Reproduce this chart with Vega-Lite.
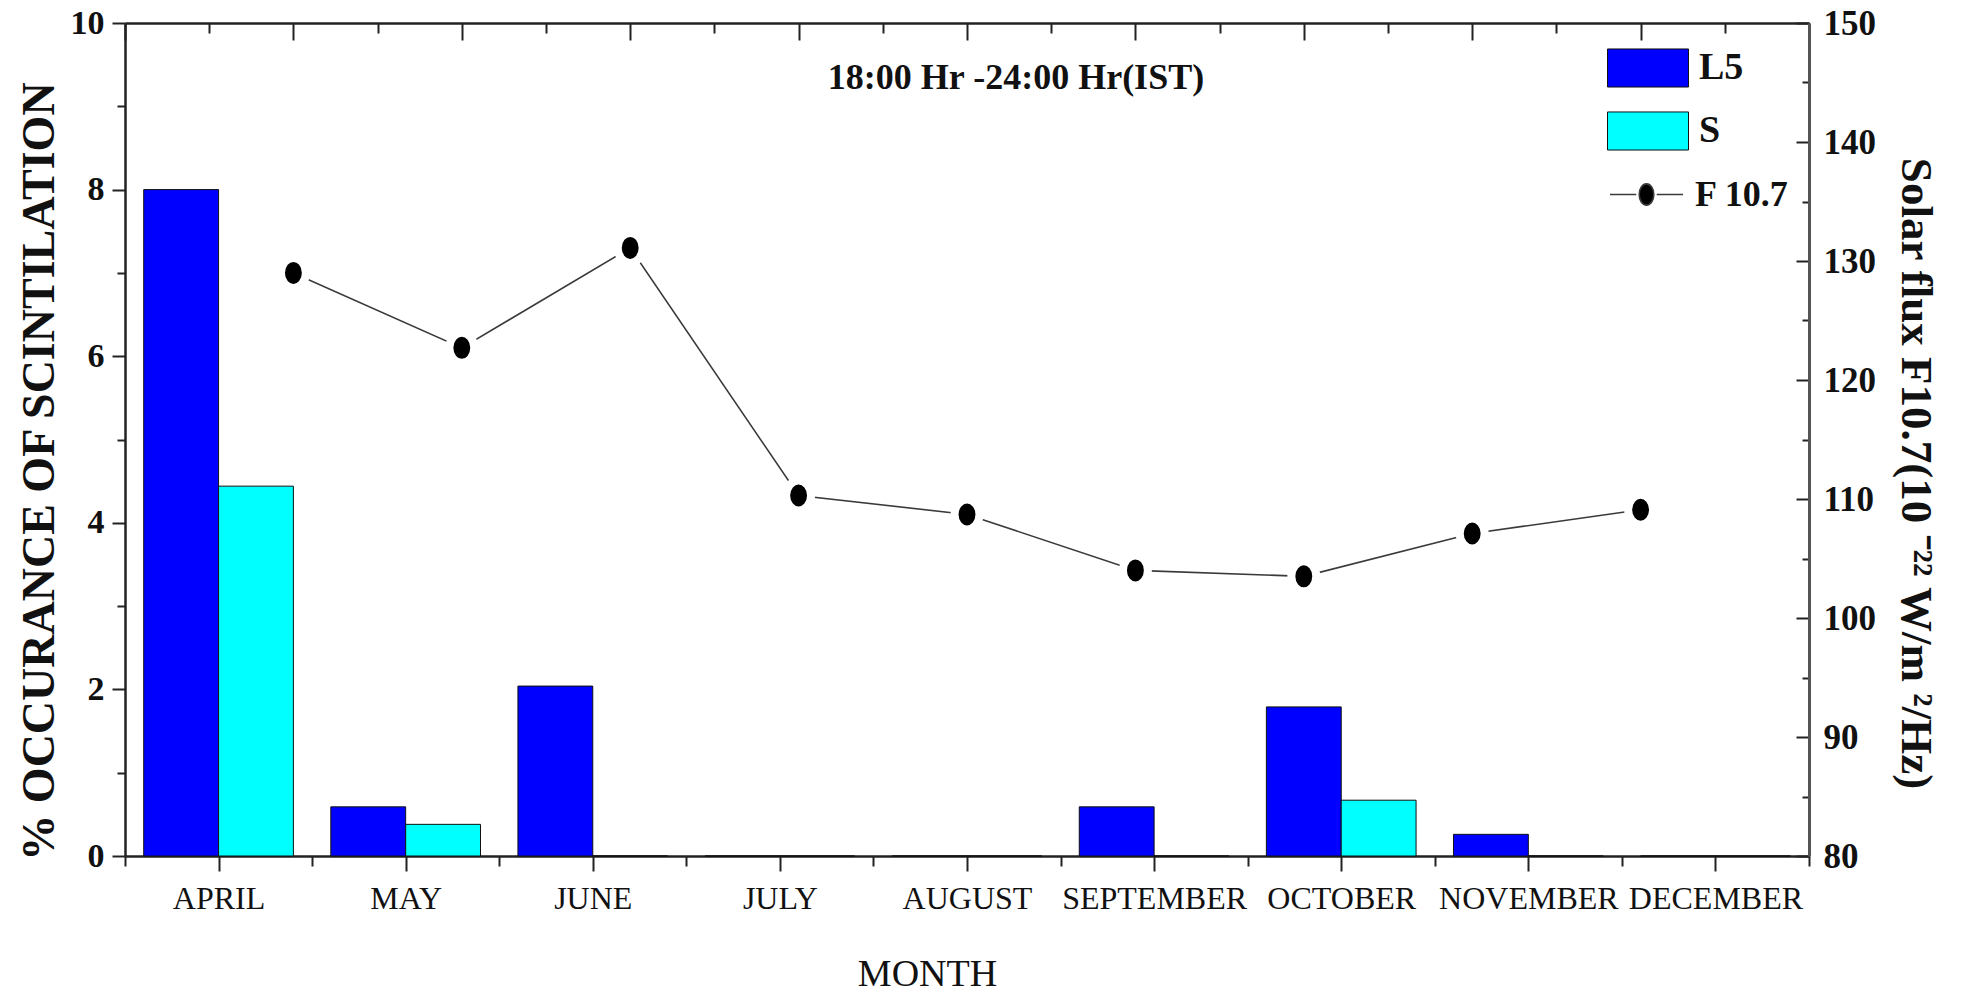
{
  "$schema": "https://vega.github.io/schema/vega-lite/v6.json",
  "width": 1684,
  "height": 833,
  "autosize": {"type": "none"},
  "padding": {"left": 125, "top": 23, "right": 155, "bottom": 138},
  "background": "white",
  "title": {
    "text": "18:00 Hr -24:00 Hr(IST)",
    "orient": "top",
    "anchor": "middle",
    "frame": "group",
    "baseline": "alphabetic",
    "offset": -68,
    "dx": 49,
    "dy": 51,
    "font": "Liberation Serif",
    "fontSize": 36,
    "fontWeight": "bold",
    "color": "#111"
  },
  "datasets": {
    "occurrence": [
      {"month": "APRIL", "series": "L5", "pct": 8.0},
      {"month": "APRIL", "series": "S", "pct": 4.44},
      {"month": "MAY", "series": "L5", "pct": 0.59},
      {"month": "MAY", "series": "S", "pct": 0.38},
      {"month": "JUNE", "series": "L5", "pct": 2.04},
      {"month": "JUNE", "series": "S", "pct": 0},
      {"month": "JULY", "series": "L5", "pct": 0},
      {"month": "JULY", "series": "S", "pct": 0},
      {"month": "AUGUST", "series": "L5", "pct": 0},
      {"month": "AUGUST", "series": "S", "pct": 0},
      {"month": "SEPTEMBER", "series": "L5", "pct": 0.59},
      {"month": "SEPTEMBER", "series": "S", "pct": 0},
      {"month": "OCTOBER", "series": "L5", "pct": 1.79},
      {"month": "OCTOBER", "series": "S", "pct": 0.67},
      {"month": "NOVEMBER", "series": "L5", "pct": 0.26},
      {"month": "NOVEMBER", "series": "S", "pct": 0},
      {"month": "DECEMBER", "series": "L5", "pct": 0},
      {"month": "DECEMBER", "series": "S", "pct": 0}
    ],
    "flux": [
      {"i": 1, "month": "APRIL", "series": "F 10.7", "f107": 129.0},
      {"i": 2, "month": "MAY", "series": "F 10.7", "f107": 122.7},
      {"i": 3, "month": "JUNE", "series": "F 10.7", "f107": 131.1},
      {"i": 4, "month": "JULY", "series": "F 10.7", "f107": 110.3},
      {"i": 5, "month": "AUGUST", "series": "F 10.7", "f107": 108.7},
      {"i": 6, "month": "SEPTEMBER", "series": "F 10.7", "f107": 104.0},
      {"i": 7, "month": "OCTOBER", "series": "F 10.7", "f107": 103.5},
      {"i": 8, "month": "NOVEMBER", "series": "F 10.7", "f107": 107.1},
      {"i": 9, "month": "DECEMBER", "series": "F 10.7", "f107": 109.1}
    ]
  },
  "layer": [
    {
      "data": {"name": "occurrence"},
      "mark": {"type": "bar", "stroke": "#111", "strokeWidth": 1},
      "encoding": {
        "x": {
          "field": "month",
          "type": "nominal",
          "sort": null,
          "scale": {"paddingInner": 0.2, "paddingOuter": 0.1},
          "axis": null
        },
        "xOffset": {
          "field": "series",
          "type": "nominal",
          "sort": ["L5", "S"],
          "scale": {"paddingInner": 0, "paddingOuter": 0}
        },
        "y": {
          "field": "pct",
          "type": "quantitative",
          "scale": {"domain": [0, 10], "nice": false, "zero": true},
          "axis": {
            "orient": "left",
            "title": "% OCCURANCE OF SCINTILATION",
            "values": [0, 1, 2, 3, 4, 5, 6, 7, 8, 9, 10],
            "labelExpr": "datum.value % 2 === 0 ? datum.label : ''",
            "tickSize": {"condition": {"test": "datum.value % 2 === 0", "value": 13}, "value": 8},
            "labelPadding": 8,
            "labelFontSize": 34,
            "labelFontWeight": "bold",
            "labelOverlap": false,
            "titleFontSize": 46,
            "titleFontWeight": "bold",
            "titleAngle": -90,
            "titleBaseline": "alphabetic",
            "titleAlign": "center",
            "titleX": -72,
            "titleY": 448,
            "domainWidth": 2.5,
            "tickWidth": 2
          }
        },
        "fill": {
          "field": "series",
          "type": "nominal",
          "scale": {"domain": ["L5", "S"], "range": ["#0000FF", "#00FFFF"]},
          "legend": {
            "title": null,
            "orient": "none",
            "legendX": 1482,
            "legendY": 4,
            "padding": 0,
            "symbolType": "M-1,-0.47H1V0.47H-1Z",
            "symbolSize": 6561,
            "symbolStrokeColor": "#111",
            "symbolStrokeWidth": 1,
            "symbolOpacity": 1,
            "rowPadding": 0,
            "labelOffset": 10,
            "labelFont": "Liberation Serif",
            "labelFontSize": 38,
            "labelFontWeight": "bold",
            "labelColor": "#111"
          }
        }
      }
    },
    {
      "data": {"name": "flux"},
      "encoding": {
        "x": {
          "field": "i",
          "type": "quantitative",
          "scale": {"domain": [0, 10], "nice": false, "zero": false},
          "axis": {
            "orient": "top",
            "title": null,
            "values": [0, 0.5, 1, 1.5, 2, 2.5, 3, 3.5, 4, 4.5, 5, 5.5, 6, 6.5, 7, 7.5, 8, 8.5, 9, 9.5, 10],
            "labels": false,
            "tickSize": {"condition": {"test": "datum.value % 1 === 0", "value": -17}, "value": -10},
            "domainWidth": 2.5,
            "tickWidth": 2
          }
        },
        "y": {
          "field": "f107",
          "type": "quantitative",
          "scale": {"domain": [80, 150], "nice": false, "zero": false},
          "axis": {
            "orient": "right",
            "title": "Solar flux F10.7(10 ⁻²² W/m ²/Hz)",
            "values": [80, 85, 90, 95, 100, 105, 110, 115, 120, 125, 130, 135, 140, 145, 150],
            "labelExpr": "datum.value % 10 === 0 ? datum.label : ''",
            "tickSize": {"condition": {"test": "datum.value % 10 === 0", "value": -13}, "value": -7},
            "labelPadding": 27,
            "labelFontSize": 35,
            "labelFontWeight": "bold",
            "labelOverlap": false,
            "titleFontSize": 45,
            "titleFontWeight": "bold",
            "titleAngle": 90,
            "titleBaseline": "alphabetic",
            "titleAlign": "center",
            "titleX": 92,
            "titleY": 450,
            "domainWidth": 3,
            "domainColor": "#555",
            "tickWidth": 2
          }
        }
      },
      "layer": [
        {
          "mark": {"type": "line", "strokeWidth": 1.6},
          "encoding": {
            "stroke": {
              "field": "series",
              "type": "nominal",
              "scale": {"range": ["#3a3a3a"]},
              "legend": {
                "title": null,
                "orient": "none",
                "legendX": 1484,
                "legendY": 134,
                "padding": 0,
                "symbolType": "M-1,0H-0.28M0.28,0H1M0.2,0A0.2,0.29,0,1,1,-0.2,0A0.2,0.29,0,1,1,0.2,0Z",
                "symbolSize": 5329,
                "symbolFillColor": "#000",
                "symbolStrokeWidth": 1.6,
                "labelOffset": 11,
                "labelFont": "Liberation Serif",
                "labelFontSize": 36,
                "labelFontWeight": "bold",
                "labelColor": "#111"
              }
            }
          }
        },
        {
          "mark": {
            "type": "point",
            "filled": true,
            "fill": "#000",
            "stroke": "#fff",
            "strokeWidth": 8,
            "opacity": 1,
            "shape": "M0.83,0A0.83,1,0,1,1,-0.83,0A0.83,1,0,1,1,0.83,0Z",
            "size": 900
          }
        }
      ]
    },
    {
      "data": {"name": "flux"},
      "mark": {"type": "point", "opacity": 0},
      "encoding": {
        "x": {
          "field": "i",
          "type": "quantitative",
          "scale": {"domain": [0.5, 9.5], "nice": false, "zero": false},
          "axis": {
            "orient": "bottom",
            "title": "MONTH",
            "values": [0.5, 1, 1.5, 2, 2.5, 3, 3.5, 4, 4.5, 5, 5.5, 6, 6.5, 7, 7.5, 8, 8.5, 9, 9.5],
            "labelExpr": "datum.value % 1 === 0 ? ['APRIL','MAY','JUNE','JULY','AUGUST','SEPTEMBER','OCTOBER','NOVEMBER','DECEMBER'][datum.value - 1] : ''",
            "tickSize": {"condition": {"test": "datum.value % 1 === 0", "value": 15}, "value": 10},
            "labelPadding": 12,
            "labelFontSize": 32,
            "labelFontWeight": "normal",
            "labelLimit": 0,
            "labelOverlap": false,
            "labelBound": false,
            "labelFlush": false,
            "titleFontSize": 38,
            "titleFontWeight": "normal",
            "titleBaseline": "alphabetic",
            "titleAlign": "center",
            "titleX": 802,
            "titleY": 129,
            "domainWidth": 2.5,
            "tickWidth": 2
          }
        }
      }
    }
  ],
  "resolve": {
    "scale": {"x": "independent", "y": "independent"},
    "axis": {"x": "independent", "y": "independent"}
  },
  "config": {
    "view": {"stroke": null},
    "font": "Liberation Serif",
    "axis": {
      "grid": false,
      "labelFont": "Liberation Serif",
      "titleFont": "Liberation Serif",
      "labelColor": "#111",
      "titleColor": "#111",
      "tickColor": "#222",
      "domainColor": "#222"
    }
  }
}
